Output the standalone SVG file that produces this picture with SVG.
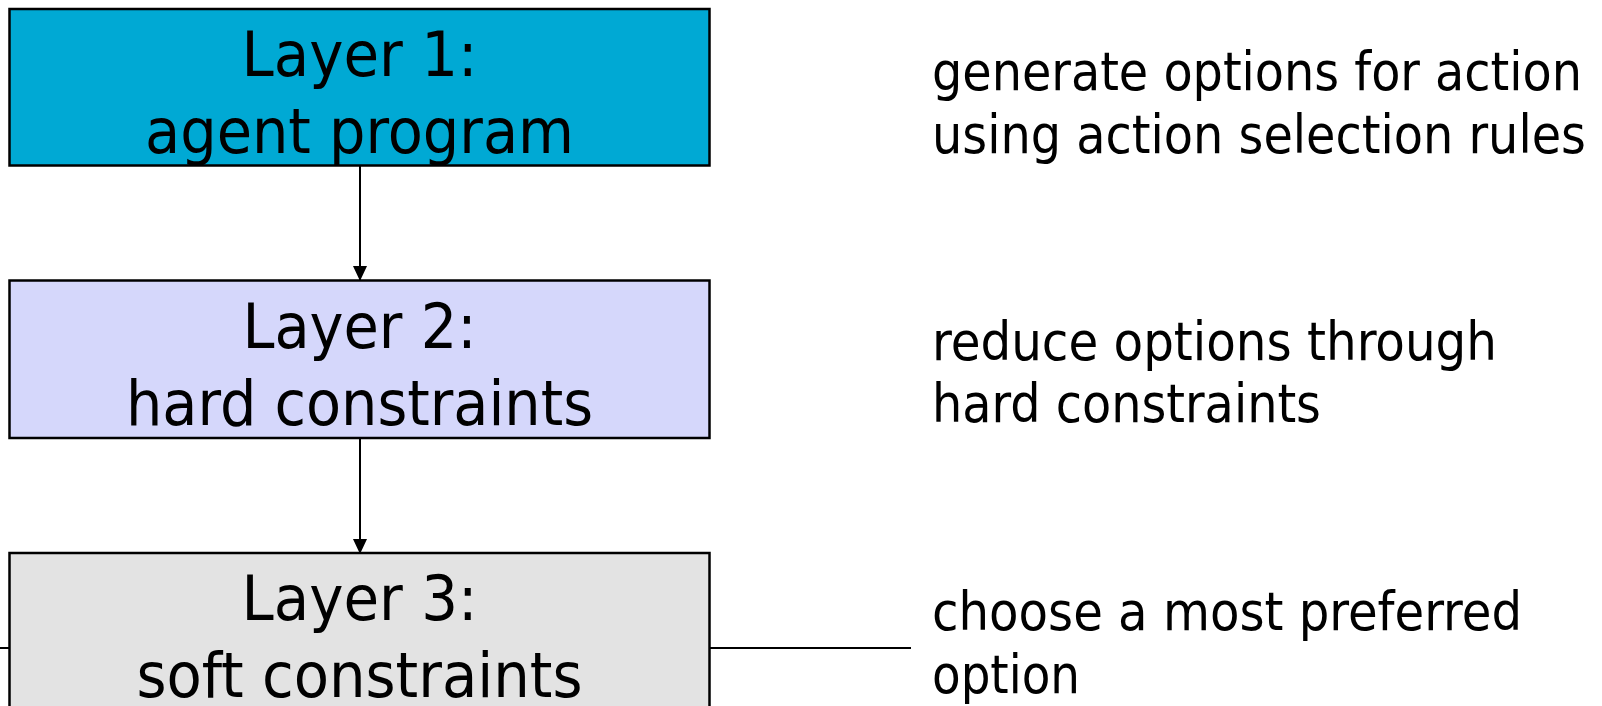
<svg xmlns="http://www.w3.org/2000/svg" width="1602" height="706" viewBox="0 0 1602 706">
  <defs>
    <style>
      .box { stroke: #000; stroke-width: 2.5; }
      .title { font-family: "DejaVu Sans Condensed", "DejaVu Sans", sans-serif; font-stretch: condensed; font-size: 63px; fill: #000; text-anchor: middle; }
      .note { font-family: "DejaVu Sans Condensed", "DejaVu Sans", sans-serif; font-stretch: condensed; font-size: 53px; fill: #000; }
      .wire { stroke: #000; stroke-width: 2; fill: none; }
    </style>
    <marker id="arrow" markerWidth="15" markerHeight="16" refX="15" refY="7.5" orient="auto" markerUnits="userSpaceOnUse" viewBox="0 0 16 15">
      <path d="M0,0 L16,7.5 L0,15 Z" fill="#000"/>
    </marker>
  </defs>

  <rect width="1602" height="706" fill="#fff"/>

  <g id="connectors">
    <line class="wire" x1="360" y1="165.5" x2="360" y2="280" marker-end="url(#arrow)"/>
    <line class="wire" x1="360" y1="438" x2="360" y2="553" marker-end="url(#arrow)"/>
    <line class="wire" x1="0" y1="648" x2="9.5" y2="648"/>
    <line class="wire" x1="709.5" y1="648" x2="911" y2="648"/>
  </g>

  <g id="layer1">
    <rect class="box" x="9.5" y="9" width="700" height="156.5" fill="#00A9D4"/>
    <text class="title" x="359.5" y="76" textLength="236" lengthAdjust="spacingAndGlyphs">Layer 1:</text>
    <text class="title" x="359.5" y="153" textLength="429" lengthAdjust="spacingAndGlyphs">agent program</text>
  </g>

  <g id="layer2">
    <rect class="box" x="9.5" y="280.5" width="700" height="157.5" fill="#D5D7FB"/>
    <text class="title" x="359.5" y="347.5" textLength="234" lengthAdjust="spacingAndGlyphs">Layer 2:</text>
    <text class="title" x="359.5" y="424.5" textLength="467" lengthAdjust="spacingAndGlyphs">hard constraints</text>
  </g>

  <g id="layer3">
    <rect class="box" x="9.5" y="553" width="700" height="170" fill="#E3E3E3"/>
    <text class="title" x="359.5" y="620" textLength="236" lengthAdjust="spacingAndGlyphs">Layer 3:</text>
    <text class="title" x="359.5" y="697" textLength="446" lengthAdjust="spacingAndGlyphs">soft constraints</text>
  </g>

  <g id="note1">
    <text class="note" x="932" y="90" textLength="650" lengthAdjust="spacingAndGlyphs">generate options for action</text>
    <text class="note" x="932" y="153" textLength="654" lengthAdjust="spacingAndGlyphs">using action selection rules</text>
  </g>

  <g id="note2">
    <text class="note" x="932" y="360" textLength="565" lengthAdjust="spacingAndGlyphs">reduce options through</text>
    <text class="note" x="932" y="422" textLength="389" lengthAdjust="spacingAndGlyphs">hard constraints</text>
  </g>

  <g id="note3">
    <text class="note" x="932" y="630" textLength="590" lengthAdjust="spacingAndGlyphs">choose a most preferred</text>
    <text class="note" x="932" y="693" textLength="148" lengthAdjust="spacingAndGlyphs">option</text>
  </g>
</svg>
